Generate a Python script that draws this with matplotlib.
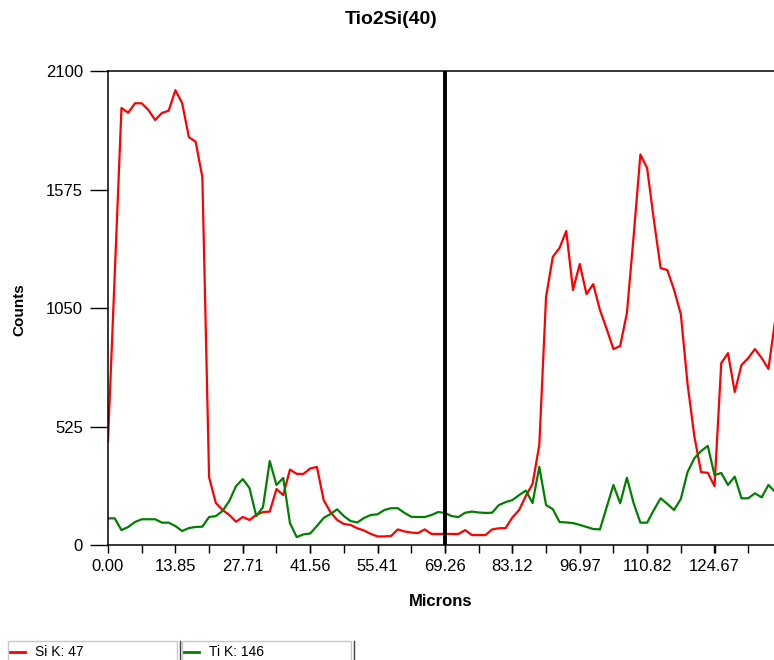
import matplotlib
matplotlib.use("Agg")
import matplotlib.pyplot as plt
from matplotlib.patches import Rectangle
from matplotlib.lines import Line2D
from matplotlib.ticker import AutoMinorLocator
import numpy as np

# line scan: counts per element along the track, one sample every 1.38525 um
step_um = 1.38525
si_counts = [460, 1200, 1936, 1915, 1957, 1957, 1927, 1883, 1914, 1924,
             2015, 1958, 1807, 1787, 1630, 300, 186, 155, 133, 103,
             124, 111, 133, 146, 148, 248, 221, 334, 315, 315,
             339, 346, 199, 146, 111, 93, 89, 74, 64, 49,
             38, 38, 40, 69, 60, 55, 53, 69, 49, 49,
             49, 49, 49, 66, 44, 44, 44, 69, 74, 75,
             122, 155, 217, 271, 443, 1099, 1276, 1316, 1391, 1130,
             1245, 1112, 1156, 1041, 957, 868, 882, 1028, 1369, 1730,
             1670, 1440, 1227, 1218, 1130, 1023, 713, 483, 323, 320,
             261, 806, 850, 678, 797, 828, 868, 828, 780, 997]
ti_counts = [118, 118, 66, 80, 102, 114, 114, 114, 99, 99,
             84, 62, 75, 80, 81, 124, 128, 151, 195, 261,
             292, 252, 128, 168, 372, 266, 297, 97, 35, 47,
             51, 84, 120, 137, 158, 128, 106, 100, 120, 133,
             136, 155, 163, 163, 142, 125, 124, 124, 133, 146,
             142, 128, 124, 143, 148, 144, 142, 143, 177, 190,
             199, 221, 241, 186, 346, 177, 159, 102, 100, 97,
             89, 80, 71, 69, 168, 266, 185, 298, 185, 99,
             99, 155, 207, 182, 155, 204, 323, 384, 416, 439,
             310, 319, 266, 303, 207, 207, 229, 211, 266, 235]
x_tick_labels = ["0.00", "13.85", "27.71", "41.56", "55.41", "69.26",
                 "83.12", "96.97", "110.82", "124.67"]
y_ticks = [0, 525, 1050, 1575, 2100]
cursor_um = 69.26
legend_labels = ["Si K: 47", "Ti K: 146"]

microns = np.arange(len(si_counts)) * step_um

W, H = 774, 660
fig = plt.figure(figsize=(W / 100, H / 100), dpi=100)
ax = fig.add_axes([108 / W, 1 - 545 / H, 1 - 108 / W, (545 - 71) / H])

ax.plot(microns, si_counts, color="#ff0000", lw=1.6)
ax.plot(microns, ti_counts, color="#008000", lw=1.6)
ax.axvline(cursor_um, color="black", lw=2.8)

ax.set_xlim(0, 136.9)
ax.set_ylim(0, 2100)

ax.set_xticks([float(s) for s in x_tick_labels], x_tick_labels,
              family="Liberation Sans", fontsize=12)
ax.xaxis.set_minor_locator(AutoMinorLocator(2))
ax.set_yticks(y_ticks, [str(v) for v in y_ticks],
              family="Liberation Sans", fontsize=12)
ax.tick_params(axis="x", which="both", direction="out", length=6, width=1,
               pad=4)
ax.tick_params(axis="y", direction="out", length=13, width=1, pad=5)

for side in ("left", "bottom", "top"):
    ax.spines[side].set_linewidth(1.1)
ax.spines["right"].set_visible(False)

fig.text(391 / W, 1 - 20 / H, "Tio2Si(40)", ha="center", va="center",
         fontsize=14, fontweight="bold", family="Liberation Sans")
fig.text(441 / W, 1 - 601 / H, "Microns", ha="center", va="center",
         fontsize=12, fontweight="bold", family="Liberation Sans")
fig.text(19 / W, 1 - 310 / H, "Counts", ha="center", va="center",
         rotation=90, fontsize=11, fontweight="bold", family="Liberation Sans")

# legend strip along the bottom edge
for k, (label, colour) in enumerate(zip(legend_labels, ["#ff0000", "#008000"])):
    x0 = 8 + 174 * k
    fig.patches.append(Rectangle((x0 / W, -2 / H), 169 / W, 21 / H,
                                 transform=fig.transFigure, fill=False,
                                 edgecolor="#c8c8c8", lw=1))
    fig.lines.append(Line2D([(x0 + 172) / W] * 2, [0, 19 / H],
                            transform=fig.transFigure, color="#404040", lw=1))
    fig.lines.append(Line2D([(x0 + 2) / W, (x0 + 17) / W], [8 / H] * 2,
                            transform=fig.transFigure, color=colour, lw=2))
    fig.text((x0 + 27) / W, 8 / H, label, ha="left", va="center",
             fontsize=10, family="Liberation Sans")

fig.savefig("out.png", dpi=100)
